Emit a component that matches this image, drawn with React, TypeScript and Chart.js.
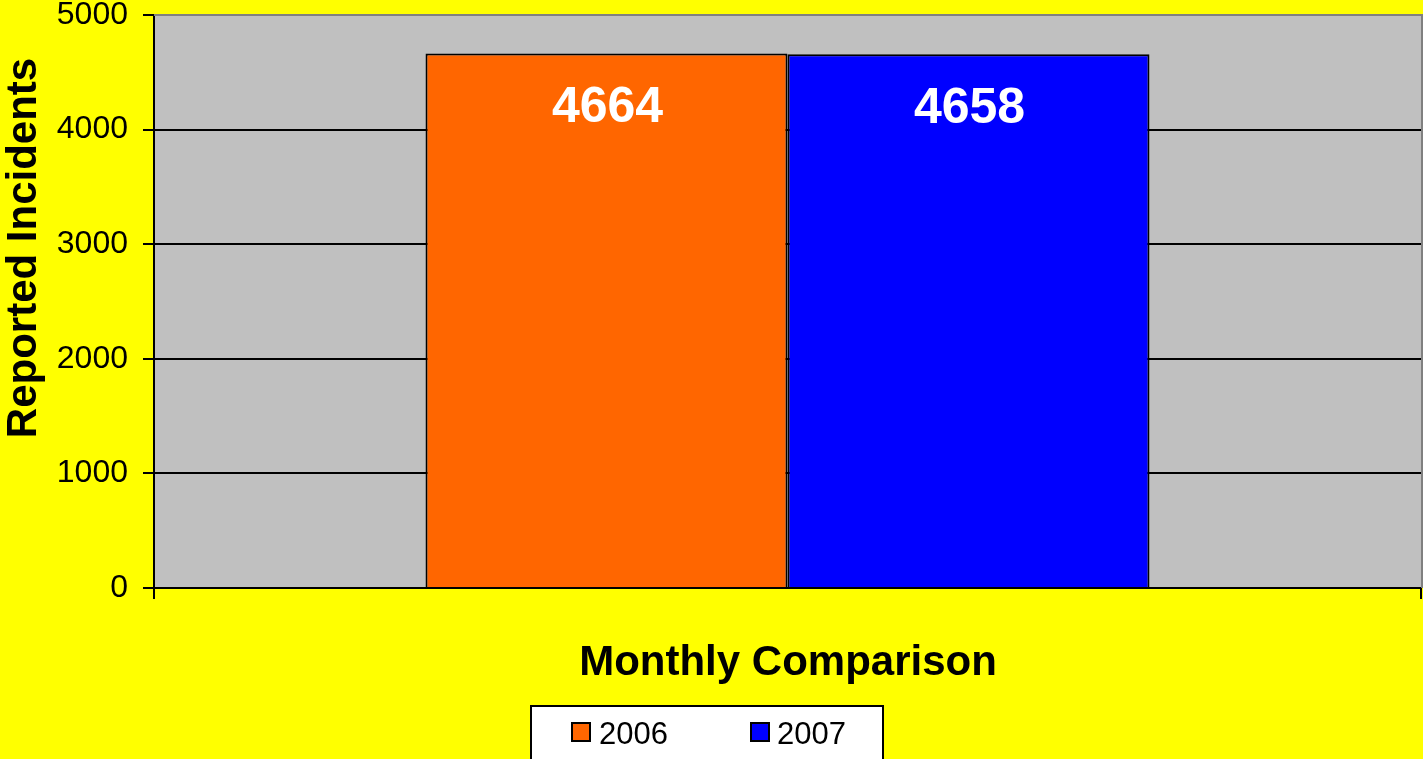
import React, { useEffect, useRef } from "react";
import { Chart, registerables } from "chart.js";

Chart.register(...registerables);

const categories = ["Monthly Comparison"];
const seriesLabels = ["2006", "2007"];
const values2006 = [4664];
const values2007 = [4658];
const yTicks = [0, 1000, 2000, 3000, 4000, 5000];

const FONT = "'Liberation Sans', Arial, sans-serif";
const W = 1423;
const H = 759;
const COLORS = ["#FF6600", "#0000FF"];

const decorPlugin = {
  id: "decor",
  beforeDraw(chart: any) {
    const { ctx, chartArea } = chart;
    ctx.save();
    ctx.fillStyle = "#FFFF00";
    ctx.fillRect(0, 0, W, H);
    ctx.fillStyle = "#C0C0C0";
    ctx.fillRect(chartArea.left, chartArea.top, chartArea.right - chartArea.left, chartArea.bottom - chartArea.top);
    ctx.restore();
  },
  afterDraw(chart: any) {
    const { ctx, chartArea } = chart;
    ctx.save();
    // plot border gray (top, right)
    ctx.strokeStyle = "#808080";
    ctx.lineWidth = 2;
    ctx.beginPath();
    ctx.moveTo(chartArea.left, chartArea.top);
    ctx.lineTo(chartArea.right + 1, chartArea.top);
    ctx.lineTo(chartArea.right + 1, chartArea.bottom);
    ctx.stroke();

    // y title
    ctx.fillStyle = "#000";
    ctx.font = `bold 42px ${FONT}`;
    ctx.translate(36, 248);
    ctx.rotate(-Math.PI / 2);
    ctx.textAlign = "center";
    ctx.textBaseline = "alphabetic";
    ctx.fillText("Reported Incidents", 0, 0);
    ctx.setTransform(1, 0, 0, 1, 0, 0);

    // x title
    ctx.font = `bold 42px ${FONT}`;
    ctx.textAlign = "center";
    ctx.fillText(categories[0], 788, 675);

    // legend
    ctx.fillStyle = "#FFFFFF";
    ctx.fillRect(531, 706, 352, 60);
    ctx.strokeStyle = "#000";
    ctx.lineWidth = 2;
    ctx.strokeRect(531, 706, 352, 60);
    const entries = [
      { x: 572, tx: 599 },
      { x: 751, tx: 777 },
    ];
    entries.forEach((e, i) => {
      ctx.fillStyle = COLORS[i];
      ctx.fillRect(e.x, 723, 18, 18);
      ctx.strokeStyle = "#000";
      ctx.lineWidth = 2;
      ctx.strokeRect(e.x, 723, 18, 18);
      ctx.fillStyle = "#000";
      ctx.font = `31px ${FONT}`;
      ctx.textAlign = "left";
      ctx.textBaseline = "alphabetic";
      ctx.fillText(seriesLabels[i], e.tx, 744);
    });
    ctx.restore();
  },
  afterDatasetsDraw(chart: any) {
    const { ctx } = chart;
    ctx.save();
    ctx.fillStyle = "#FFFFFF";
    ctx.font = `bold 50px ${FONT}`;
    ctx.textAlign = "center";
    ctx.textBaseline = "middle";
    chart.data.datasets.forEach((ds: any, di: number) => {
      const meta = chart.getDatasetMeta(di);
      meta.data.forEach((bar: any, i: number) => {
        ctx.fillText(String(ds.data[i]), bar.x + 1, bar.y + 55);
      });
    });
    ctx.restore();
  },
};

export default function App() {
  const ref = useRef<HTMLCanvasElement | null>(null);
  useEffect(() => {
    if (!ref.current) return;
    const chart = new Chart(ref.current, {
      type: "bar",
      data: {
        labels: categories,
        datasets: [
          { label: seriesLabels[0], data: values2006, backgroundColor: COLORS[0], borderColor: "#000", borderWidth: 2 },
          { label: seriesLabels[1], data: values2007, backgroundColor: COLORS[1], borderColor: "#000", borderWidth: 2 },
        ],
      },
      options: {
        responsive: false,
        animation: false,
        devicePixelRatio: 1,
        layout: { padding: { top: 15, right: 2, left: 0, bottom: 0 } },
        plugins: { legend: { display: false }, tooltip: { enabled: false }, title: { display: false } },
        datasets: { bar: { categoryPercentage: 2 / 3.5, barPercentage: 1 } },
        scales: {
          x: {
            offset: true,
            grid: { offset: true, drawOnChartArea: false, drawTicks: true, tickLength: 11, color: "#000", lineWidth: 2 },
            border: { display: true, color: "#000", width: 2 },
            ticks: { display: false },
            afterFit: (scale: any) => {
              scale.height = H - 588;
              scale.paddingLeft = 0;
              scale.paddingRight = 0;
            },
          },
          y: {
            min: 0,
            max: 5000,
            afterBuildTicks: (scale: any) => {
              scale.ticks = yTicks.map((v) => ({ value: v }));
            },
            grid: {
              color: (c: any) => (c.tick && c.tick.value === 5000 ? "#808080" : "#000"),
              tickColor: "#000",
              lineWidth: 2,
              tickLength: 11,
            },
            border: { display: true, color: "#000", width: 2 },
            ticks: {
              color: "#000",
              font: { family: FONT, size: 32 },
              padding: 15,
              callback: (v: any) => String(v),
            },
            afterFit: (scale: any) => {
              scale.width = 154;
              scale.paddingTop = 0;
              scale.paddingBottom = 0;
            },
          },
        },
      },
      plugins: [decorPlugin],
    });
    return () => chart.destroy();
  }, []);
  return (
    <div style={{ position: "absolute", left: 0, top: 0, width: W, height: H }}>
      <canvas ref={ref} width={W} height={H} style={{ display: "block", width: W, height: H }} />
    </div>
  );
}
